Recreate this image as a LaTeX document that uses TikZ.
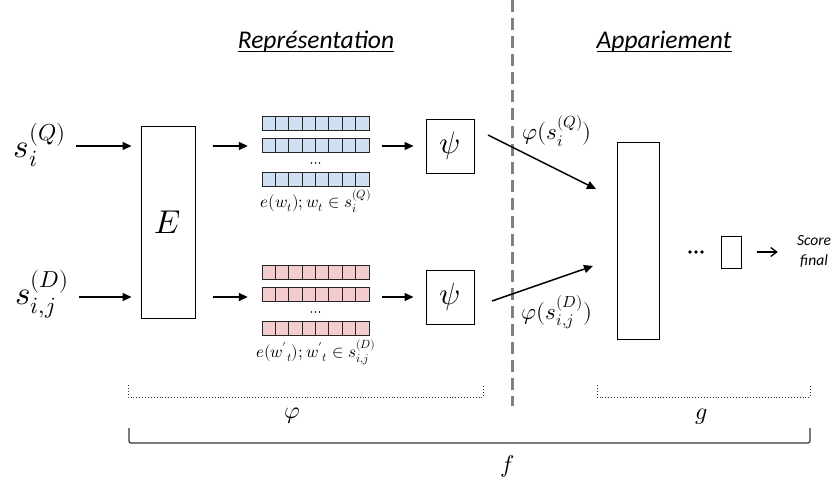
\documentclass[tikz,border=0pt]{standalone}
\usepackage{fontspec}
\usepackage{unicode-math}
\setmainfont{Carlito}
\setmathfont{Latin Modern Math}
\usetikzlibrary{arrows.meta}
\definecolor{vblue}{RGB}{207,224,243}
\definecolor{vpink}{RGB}{243,204,206}
\definecolor{dgray}{RGB}{128,128,128}
\tikzset{
  arr/.style={line width=1.5pt, -{Triangle[length=9pt,width=8pt]}},
  box/.style={draw, line width=1pt, inner sep=0pt},
  cellq/.style={draw=black!85, line width=1pt, fill=vblue},
  cellp/.style={draw=black!85, line width=1pt, fill=vpink},
  m/.style={inner sep=0pt},
  big/.style={inner sep=0pt, font=\fontsize{33}{38}\selectfont},
  mid/.style={inner sep=0pt, font=\fontsize{23}{27}\selectfont},
  small/.style={inner sep=0pt, font=\fontsize{17}{20}\selectfont},
  title/.style={inner sep=0pt, font=\fontsize{25.5}{30}\selectfont\itshape},
  dotbr/.style={line width=0.9pt, black!80, dash pattern=on 0.9pt off 2pt},
}
\newcommand\vecrow[2]{\foreach \k in {0,...,7}{\draw[#2] ({262+\k*13.375},#1) rectangle ++(13.375,14);}}
\newcommand\vecdots[1]{\foreach \k in {-4,0,4}{\fill ({315.5+\k},#1) circle (0.9);}}
\begin{document}
\begin{tikzpicture}[x=1pt,y=-1pt]
\useasboundingbox (0,0) rectangle (835,482);

% titles
\node[title] (t1) at (316,42) {Représentation};
\draw[line width=1.3pt] ([yshift=-3pt]t1.base west) -- ([yshift=-3pt]t1.base east);
\node[title] (t2) at (664,42) {Appariement};
\draw[line width=1.3pt] ([yshift=-3pt]t2.base west) -- ([yshift=-3pt]t2.base east);

% separator
\draw[dgray, line width=3pt, dash pattern=on 12pt off 6pt] (512,0) -- (512,406);

% inputs
\node[big] (sq) at (40,145) {$s_i^{(Q)}$};
\node[big] (sd) at (42,294) {$s_{i,j}^{(D)}$};

% encoder
\node[box, minimum width=54, minimum height=192, font=\fontsize{33}{38}\selectfont] (E) at (168,222) {$E$};

% psi boxes
\node[box, minimum width=48, minimum height=54, font=\fontsize{31}{36}\selectfont] (psiq) at (450,146) {$\psi$};
\node[box, minimum width=48, minimum height=54, font=\fontsize{31}{36}\selectfont] (psid) at (450,297) {$\psi$};

% vector stacks
\node[m, minimum width=107, minimum height=70] (vq) at (315.5,151) {};
\vecrow{116}{cellq}
\vecrow{138}{cellq}
\vecrow{172}{cellq}
\vecdots{163}
\node[small] (lq) at (316,201) {$e(w_t); w_t \in s_i^{(Q)}$};

\node[m, minimum width=107, minimum height=70] (vd) at (315.5,300) {};
\vecrow{265}{cellp}
\vecrow{287}{cellp}
\vecrow{321}{cellp}
\vecdots{312}
\node[small] (ld) at (316,352) {$e({w'}_t); {w'}_t \in s_{i,j}^{(D)}$};

% arrows left part
\draw[arr, shorten <=10pt, shorten >=9pt] (sq.east |- psiq) -- (E.west |- psiq);
\draw[arr, shorten <=10pt, shorten >=9pt] (sd.east |- psid) -- (E.west |- psid);
\draw[arr, shorten <=17pt, shorten >=14pt] (E.east |- psiq) -- (vq.west |- psiq);
\draw[arr, shorten <=17pt, shorten >=14pt] (E.east |- psid) -- (vd.west |- psid);
\draw[arr, shorten <=13pt, shorten >=12pt] (vq.east |- psiq) -- (psiq.west);
\draw[arr, shorten <=13pt, shorten >=12pt] (vd.east |- psid) -- (psid.west);

% matching part
\node[box, minimum width=42, minimum height=197] (G) at (638,240.5) {};
\coordinate (q0) at (488,135);
\coordinate (q1) at (596,189);
\coordinate (d0) at (492,301);
\coordinate (d1) at (593,266);
\draw[arr] (q0) -- (q1);
\draw[arr] (d0) -- (d1);
\node[mid] (phq) at (557,131) {$\varphi(s_i^{(Q)})$};
\node[mid] (phd) at (557,312) {$\varphi(s_{i,j}^{(D)})$};

\foreach \k in {-6,0,6}{\fill ({696+\k},252) circle (1.8);}
\node[box, minimum width=20, minimum height=32] (h) at (731,252) {};
\node[m, align=center, font=\fontsize{15.5}{20}\selectfont\itshape] (sc) at (814,251) {Score\\final};
\draw[line width=1.3pt, -{Straight Barb[length=6pt,width=9pt]}, shorten <=15pt, shorten >=19pt] (h.east) -- (sc.west |- h.east);

% brackets
\draw[dotbr] (128,385) -- (128,397) -- (483,397) -- (483,385);
\draw[dotbr] (597,385) -- (597,397) -- (810,397) -- (810,385);
\node[mid, font=\fontsize{24}{28}\selectfont] (lphi) at (292,416) {$\varphi$};
\node[mid, font=\fontsize{24}{28}\selectfont] (lg) at (702,417) {$g$};
\draw[line width=1.2pt, black!80, rounded corners=2pt] (129,428) -- (129,443) -- (810,443) -- (810,428);
\node[mid, font=\fontsize{24}{28}\selectfont] (lf) at (507,466) {$f$};
\end{tikzpicture}
\end{document}
